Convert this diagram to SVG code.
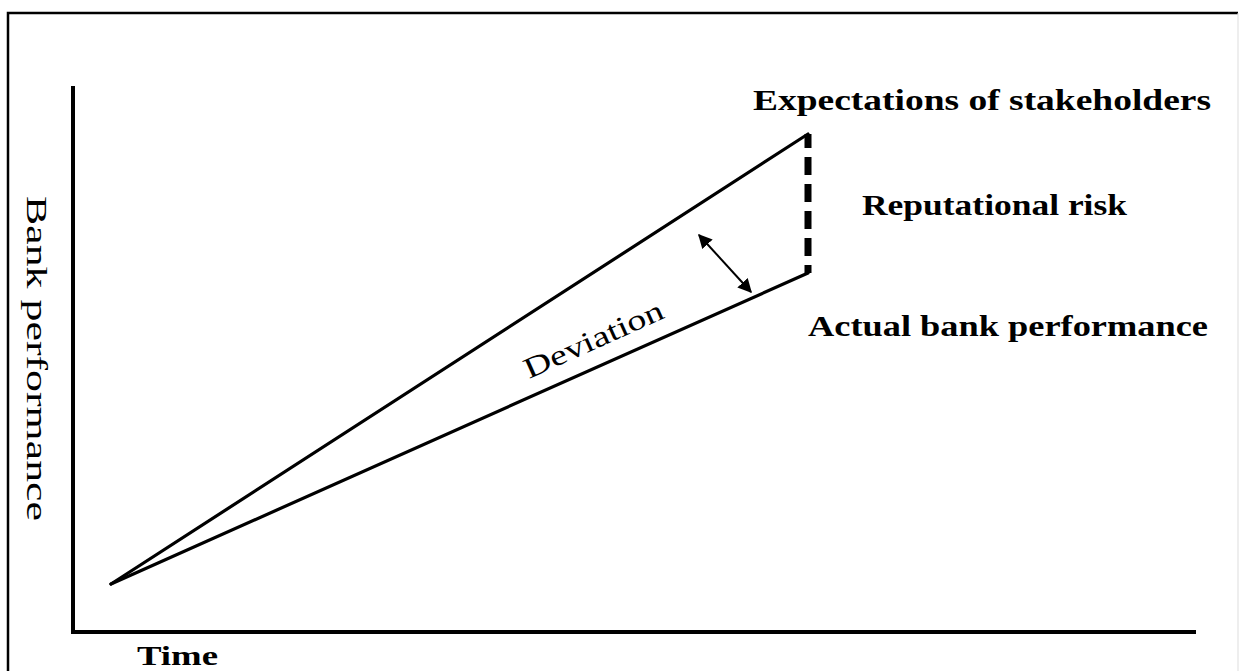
<svg xmlns="http://www.w3.org/2000/svg" width="1239" height="671" viewBox="0 0 1239 671">
<defs>
<style>
text{font-family:"Liberation Serif","Times New Roman",Times,serif;fill:#000}
.b{font-weight:bold}
.ax{stroke:#000;stroke-width:4;fill:none}
.ln{stroke:#000;stroke-width:3.2;fill:none;stroke-linecap:round}
</style>
<marker id="ah" viewBox="0 0 10 10" refX="9" refY="5" markerWidth="7" markerHeight="7" markerUnits="strokeWidth" orient="auto-start-reverse">
<path d="M0,0 L10,5 L0,10 Z" fill="#000"/>
</marker>
</defs>
<rect width="1239" height="671" fill="#fff"/>
<g id="frame">
<path d="M8,671 V13 H1238" fill="none" stroke="#000" stroke-width="2.5"/>
<line x1="1238" y1="13" x2="1238" y2="671" stroke="#ddd" stroke-width="1"/>
</g>
<g id="axes">
<path class="ax" d="M73,86 V632 H1196"/>
</g>
<g id="connectors">
<line id="expectations-line" class="ln" x1="111" y1="584" x2="808" y2="134"/>
<line id="actual-line" class="ln" x1="111" y1="584" x2="808" y2="273"/>
<line id="risk-gap" x1="808" y1="134" x2="808" y2="273" stroke="#000" stroke-width="7" stroke-dasharray="18,9" stroke-dashoffset="4"/>
<line id="deviation-arrow" x1="699" y1="235" x2="751" y2="292" stroke="#000" stroke-width="2" marker-start="url(#ah)" marker-end="url(#ah)"/>
</g>
<g id="label-expectations">
<text class="b" font-family="Liberation Serif, serif" x="753" y="110" font-size="30" textLength="458" lengthAdjust="spacingAndGlyphs">Expectations of stakeholders</text>
</g>
<g id="label-risk">
<text class="b" font-family="Liberation Serif, serif" x="862" y="215" font-size="30" textLength="265" lengthAdjust="spacingAndGlyphs">Reputational risk</text>
</g>
<g id="label-actual">
<text class="b" font-family="Liberation Serif, serif" x="808" y="336" font-size="30" textLength="400" lengthAdjust="spacingAndGlyphs">Actual bank performance</text>
</g>
<g id="label-deviation">
<text font-family="Liberation Serif, serif" transform="translate(529,379) rotate(-24.2)" font-size="29" textLength="150" lengthAdjust="spacingAndGlyphs">Deviation</text>
</g>
<g id="label-time">
<text class="b" font-family="Liberation Serif, serif" x="137" y="665" font-size="28" textLength="81" lengthAdjust="spacingAndGlyphs">Time</text>
</g>
<g id="label-y">
<text font-family="Liberation Serif, serif" transform="translate(27,196) rotate(90)" font-size="29" textLength="325" lengthAdjust="spacingAndGlyphs">Bank performance</text>
</g>
</svg>
